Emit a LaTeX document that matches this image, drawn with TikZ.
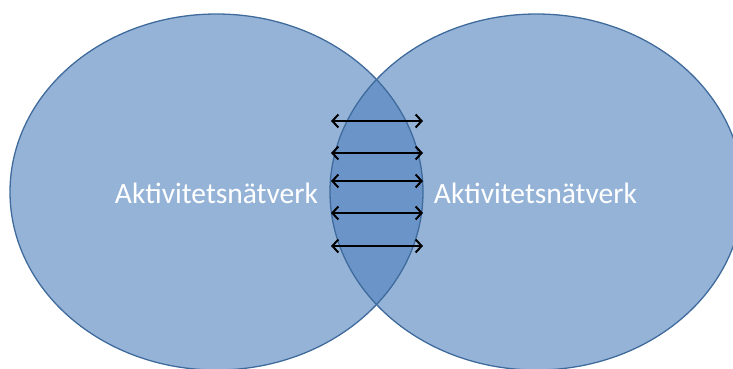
\documentclass[tikz,border=0pt]{standalone}
\usepackage{fontspec}
\setmainfont{Carlito}
\usetikzlibrary{arrows.meta,shapes.geometric}
\definecolor{fillblue}{HTML}{4F81BD}
\definecolor{edgeblue}{HTML}{3F6A9C}
\begin{document}
\begin{tikzpicture}[x=1pt,y=-1pt,
  setfill/.style={ellipse,minimum width=413pt,minimum height=356pt,inner sep=0pt,outer sep=0pt,fill=fillblue,fill opacity=0.6,draw=none},
  setedge/.style={ellipse,minimum width=413pt,minimum height=356pt,inner sep=0pt,outer sep=0pt,draw=edgeblue,line width=1.3pt},
  lbl/.style={text=white,font=\fontsize{29.5}{30}\selectfont,anchor=base,inner sep=0pt},
  link/.style={line width=2pt,{Straight Barb[length=6pt,width=13pt]}-{Straight Barb[length=6pt,width=13pt]}}]
\useasboundingbox (0,0) rectangle (733,369);
\node[setfill] (Lf) at (216.5,192) {};
\node[setfill] (Rf) at (536.5,192) {};
\node[setedge] (L) at (216.5,192) {};
\node[setedge] (R) at (536.5,192) {};
\node[lbl] (tl) at (216.5,203) {Aktivitetsnätverk};
\node[lbl] (tr) at (535.5,203) {Aktivitetsnätverk};
\foreach \i/\y in {1/121,2/153,3/181,4/213,5/246}{
  \coordinate (a\i) at (331,\y);
  \coordinate (b\i) at (423,\y);
  \draw[link] (a\i) -- (b\i);
}
\end{tikzpicture}
\end{document}
